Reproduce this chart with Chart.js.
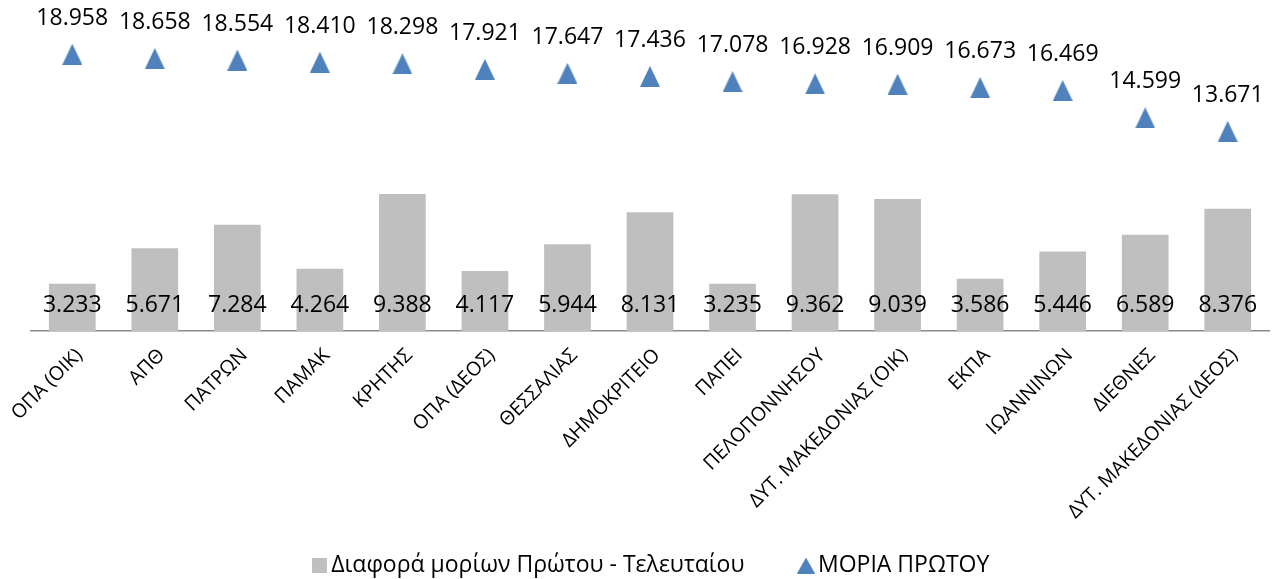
<!DOCTYPE html>
<html><head><meta charset="utf-8">
<script src="https://cdn.jsdelivr.net/npm/chart.js@4/dist/chart.umd.min.js"></script>
<style>html,body{margin:0;padding:0;background:#fff;overflow:hidden}</style>
</head><body>
<canvas id="c" width="1280" height="579" style="display:block;width:1280px;height:579px"></canvas>
<script>
const categories = ['ΟΠΑ (ΟΙΚ)','ΑΠΘ','ΠΑΤΡΩΝ','ΠΑΜΑΚ','ΚΡΗΤΗΣ','ΟΠΑ (ΔΕΟΣ)','ΘΕΣΣΑΛΙΑΣ','ΔΗΜΟΚΡΙΤΕΙΟ','ΠΑΠΕΙ','ΠΕΛΟΠΟΝΝΗΣΟΥ','ΔΥΤ. ΜΑΚΕΔΟΝΙΑΣ (ΟΙΚ)','ΕΚΠΑ','ΙΩΑΝΝΙΝΩΝ','ΔΙΕΘΝΕΣ','ΔΥΤ. ΜΑΚΕΔΟΝΙΑΣ (ΔΕΟΣ)'];
const diffValues = [3.233,5.671,7.284,4.264,9.388,4.117,5.944,8.131,3.235,9.362,9.039,3.586,5.446,6.589,8.376];
const firstValues = [18.958,18.658,18.554,18.410,18.298,17.921,17.647,17.436,17.078,16.928,16.909,16.673,16.469,14.599,13.671];
const seriesNames = ['Διαφορά μορίων Πρώτου - Τελευταίου','ΜΟΡΙΑ ΠΡΩΤΟΥ'];

const FONT = "'Open Sans', 'Noto Sans', sans-serif";
const BAR_COLOR = '#BFBFBF';
const TRI_COLOR = '#4F81BD';

function makeTriangle(w, h, color) {
  const c = document.createElement('canvas');
  c.width = w; c.height = h;
  const x = c.getContext('2d');
  x.fillStyle = color;
  x.beginPath();
  x.moveTo(w / 2, 0);
  x.lineTo(w, h);
  x.lineTo(0, h);
  x.closePath();
  x.fill();
  return c;
}
function makeSquare(s, color) {
  const c = document.createElement('canvas');
  c.width = s; c.height = s;
  const x = c.getContext('2d');
  x.fillStyle = color;
  x.fillRect(0, 0, s, s);
  return c;
}
const triPoint = makeTriangle(20, 21, TRI_COLOR);
const triLegend = makeTriangle(18, 16, TRI_COLOR);
const sqLegend = makeSquare(15, BAR_COLOR);

const labelPlugin = {
  id: 'valueLabels',
  afterLayout(chart) {
    // let rotated category labels extend below the axis box (no clipping)
    const s = chart.scales.x;
    if (s) s._computeLabelArea = () => undefined;
  },
  afterDatasetsDraw(chart) {
    const ctx = chart.ctx;
    ctx.save();
    ctx.font = '23px ' + FONT;
    ctx.fillStyle = '#000000';
    ctx.textAlign = 'center';
    ctx.textBaseline = 'middle';
    const m0 = chart.getDatasetMeta(0);
    m0.data.forEach((el, i) => {
      ctx.fillText(chart.data.datasets[0].data[i].toFixed(3), el.x, el.base - 26);
    });
    const m1 = chart.getDatasetMeta(1);
    m1.data.forEach((el, i) => {
      ctx.fillText(chart.data.datasets[1].data[i].toFixed(3), el.x, el.y - 36);
    });
    ctx.restore();
  }
};

new Chart(document.getElementById('c'), {
  type: 'bar',
  data: {
    labels: categories,
    datasets: [
      {
        type: 'bar',
        label: seriesNames[0],
        data: diffValues,
        backgroundColor: BAR_COLOR,
        borderWidth: 0,
        barPercentage: 0.566,
        categoryPercentage: 1.0
      },
      {
        type: 'line',
        label: seriesNames[1],
        data: firstValues,
        showLine: false,
        pointStyle: triPoint,
        pointRadius: 10,
        pointHoverRadius: 10,
        backgroundColor: TRI_COLOR,
        borderColor: TRI_COLOR
      }
    ]
  },
  options: {
    responsive: false,
    animation: false,
    devicePixelRatio: 1,
    layout: { padding: { left: 31, right: 3, top: 39, bottom: -8 } },
    scales: {
      y: { display: false, min: 0, max: 20 },
      x: {
        grid: { display: false },
        border: { display: true, color: '#8A8A8A', width: 1.5 },
        ticks: {
          minRotation: 45, maxRotation: 45,
          autoSkip: false,
          padding: 5,
          labelOffset: 7,
          color: '#000000',
          font: { family: FONT, size: 19.5 }
        },
        afterFit(scale) { scale.height = 162; }
      }
    },
    plugins: {
      tooltip: { enabled: false },
      title: { display: false },
      legend: {
        position: 'bottom',
        labels: {
          usePointStyle: true,
          pointStyleWidth: 1,
          boxHeight: 15,
          padding: 61,
          color: '#000000',
          font: { family: FONT, size: 23 },
          generateLabels(chart) {
            const items = Chart.defaults.plugins.legend.labels.generateLabels(chart);
            if (items[0]) items[0].pointStyle = sqLegend;
            if (items[1]) items[1].pointStyle = triLegend;
            return items;
          }
        }
      }
    }
  },
  plugins: [labelPlugin]
});
</script>
</body></html>
